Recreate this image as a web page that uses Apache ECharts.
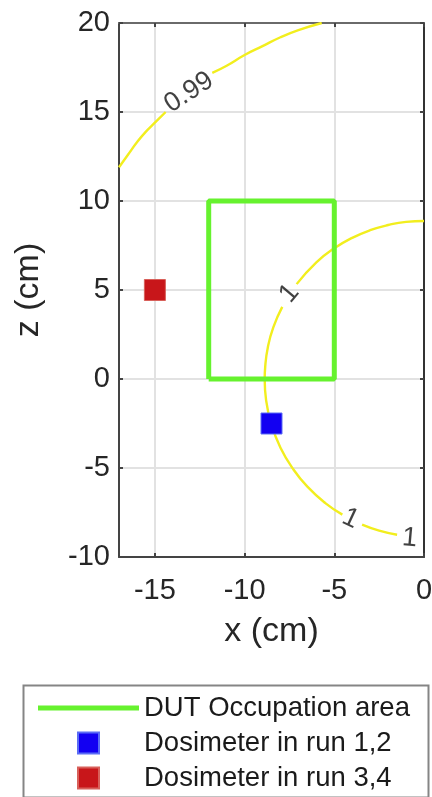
<!DOCTYPE html>
<html><head><meta charset="utf-8">
<script src="https://cdn.jsdelivr.net/npm/echarts@6/dist/echarts.min.js"></script>
<style>html,body{margin:0;padding:0;background:#fff}#c{width:432px;height:797px}</style>
</head><body><div id="c"></div>
<script>
const xTicks = [-15, -10, -5, 0];
const yTicks = [-10, -5, 0, 5, 10, 15, 20];
const dutRect = [[-12, 0], [-12, 10], [-5, 10], [-5, 0], [-12, 0]];
const dosimeterRun12 = [[-8.5, -2.5]];
const dosimeterRun34 = [[-15, 5]];
const contour099A = [[-17, 11.9], [-16.5, 12.6], [-16, 13.3], [-15.5, 13.9], [-15, 14.4], [-14.4, 15.0]];
const contour099B = [[-11.8, 17.2], [-11, 17.6], [-10, 18.2], [-9, 18.7], [-8, 19.2], [-7, 19.6], [-5.7, 20.0]];
const contour1A = [[0, 8.88], [-1, 8.83], [-2, 8.65], [-3, 8.36], [-4, 7.93], [-5, 7.34], [-6, 6.55], [-7.1, 5.33]];
const contour1B = [[-7.9, 4.05], [-8.4, 2.9], [-8.7, 1.8], [-8.85, 0.7], [-8.88, 0], [-8.8, -1.2], [-8.5, -2.57], [-8, -3.86], [-7.3, -5.05], [-6.5, -6.05], [-5.5, -6.97], [-4.55, -7.62]];
const contour1C = [[-3.45, -8.18], [-2.5, -8.52], [-1.5, -8.75]];
const contourLabelPos = [[-13.1, 16.1], [-7.5, 4.8], [-4.1, -7.85], [-0.8, -8.95]];
const contourLabelText = ['0.99', '1', '1', '1'];
const contourLabelAngle = [33, 50, -25, -5];
const legendNames = ['DUT Occupation area', 'Dosimeter in run 1,2', 'Dosimeter in run 3,4'];

const FONT = "'Liberation Sans', Arial, sans-serif";
const chart = echarts.init(document.getElementById('c'), null, {renderer: 'canvas'});
const frame = '#444';
const contourColor = '#f2ee1e';
const contourSeries = [contour099A, contour099B, contour1A, contour1B, contour1C].map(d => ({
  type: 'line', data: d, smooth: true, symbol: 'none', silent: true, z: 3,
  lineStyle: {color: contourColor, width: 2.4}
}));

chart.setOption({
  animation: false,
  backgroundColor: '#fff',
  textStyle: {fontFamily: FONT},
  grid: {left: 119, right: 8, top: 23, bottom: 240, outerBoundsMode: 'none'},
  xAxis: [{
    type: 'value', min: -17, max: 0, position: 'bottom',
    name: 'x (cm)', nameLocation: 'middle', nameGap: 58,
    nameTextStyle: {fontSize: 34, color: '#262626', fontFamily: FONT},
    axisLine: {show: true, onZero: false, lineStyle: {color: frame, width: 2}},
    axisTick: {show: true, inside: true, length: 4, customValues: xTicks, lineStyle: {color: frame, width: 2}},
    axisLabel: {customValues: xTicks, fontSize: 29, color: '#262626', margin: 19, fontFamily: FONT},
    splitLine: {show: true, lineStyle: {color: '#e2e2e2', width: 2}}
  }, {
    type: 'value', min: -17, max: 0, position: 'top',
    axisLine: {show: true, onZero: false, lineStyle: {color: '#6a6a6a', width: 2}},
    axisTick: {show: true, inside: true, length: 4, customValues: xTicks, lineStyle: {color: frame, width: 2}},
    axisLabel: {show: false}, splitLine: {show: false}
  }],
  yAxis: [{
    type: 'value', min: -10, max: 20, interval: 5, position: 'left',
    name: 'z (cm)', nameLocation: 'middle', nameGap: 73,
    nameTextStyle: {fontSize: 34, color: '#262626', fontFamily: FONT},
    axisLine: {show: true, onZero: false, lineStyle: {color: frame, width: 2}},
    axisTick: {show: true, inside: true, length: 4, lineStyle: {color: frame, width: 2}},
    axisLabel: {fontSize: 29, color: '#262626', margin: 9, fontFamily: FONT},
    splitLine: {show: true, lineStyle: {color: '#e2e2e2', width: 2}}
  }, {
    type: 'value', min: -10, max: 20, interval: 5, position: 'right',
    axisLine: {show: true, onZero: false, lineStyle: {color: '#333', width: 2}},
    axisTick: {show: true, inside: true, length: 4, lineStyle: {color: frame, width: 2}},
    axisLabel: {show: false}, splitLine: {show: false}
  }],
  legend: {
    orient: 'vertical', left: 38, top: 694, height: 103, padding: 0,
    itemWidth: 101, itemHeight: 21, itemGap: 7,
    textStyle: {fontSize: 27.5, lineHeight: 28, color: '#1a1a1a', fontFamily: FONT},
    selectedMode: false,
    data: [
      {name: legendNames[0], icon: 'path://M0,0H100V5H0Z'},
      {name: legendNames[1], icon: 'path://M0,0H10V10H0Z'},
      {name: legendNames[2], icon: 'path://M0,0H10V10H0Z'}
    ]
  },
  graphic: [{
    type: 'rect', left: 21, top: 683, silent: true,
    shape: {width: 405, height: 112},
    style: {fill: 'none', stroke: '#858585', lineWidth: 2}
  }],
  series: [
    ...contourSeries,
    {
      type: 'scatter', symbolSize: 0, silent: true, z: 4,
      data: contourLabelPos.map((p, i) => ({
        value: p,
        label: {show: true, position: 'inside', formatter: contourLabelText[i], rotate: contourLabelAngle[i],
          fontSize: 27, color: '#111', fontFamily: FONT}
      }))
    },
    {
      name: legendNames[0], type: 'line', data: dutRect, symbol: 'none', z: 5,
      lineStyle: {color: '#66f22e', width: 5}, itemStyle: {color: '#66f22e'}
    },
    {
      name: legendNames[1], type: 'scatter', data: dosimeterRun12, symbol: 'rect', symbolSize: 21, z: 6,
      itemStyle: {color: '#1200f2', borderColor: '#5a6cf5', borderWidth: 1, opacity: 1}
    },
    {
      name: legendNames[2], type: 'scatter', data: dosimeterRun34, symbol: 'rect', symbolSize: 21, z: 6,
      itemStyle: {color: '#c8161a', borderColor: '#d8605a', borderWidth: 1, opacity: 1}
    }
  ]
});
</script>
</body></html>
